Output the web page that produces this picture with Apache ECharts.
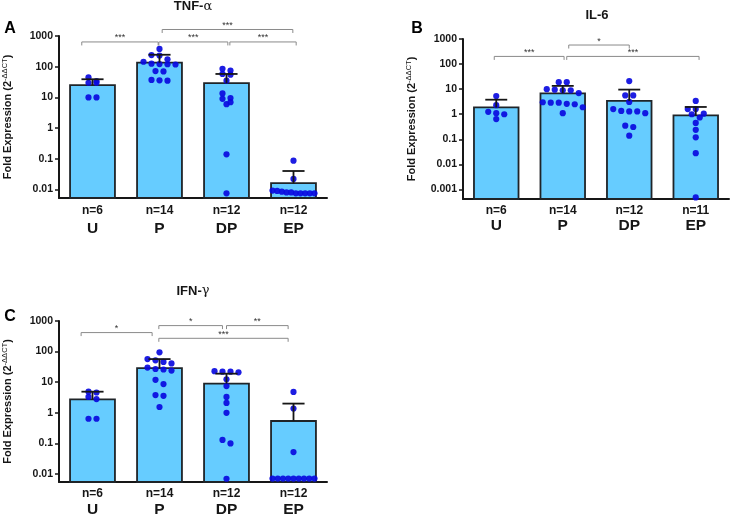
<!DOCTYPE html>
<html><head><meta charset="utf-8">
<script src="https://cdn.jsdelivr.net/npm/echarts@6/dist/echarts.min.js"></script>
<style>html,body{margin:0;padding:0;background:#fff}#c{width:730px;height:514px}</style>
</head><body><div id="c"></div>
<script>
// ---------- data ----------
const categories = ['U', 'P', 'DP', 'EP'];
const tnfCounts = ['n=6', 'n=14', 'n=12', 'n=12'];
const il6Counts = ['n=6', 'n=14', 'n=12', 'n=11'];
const ifnCounts = ['n=6', 'n=14', 'n=12', 'n=12'];

const tickValuesAC = [0.01, 0.1, 1, 10, 100, 1000];
const tickLabelsAC = ['0.01', '0.1', '1', '10', '100', '1000'];
const tickValuesB = [0.001, 0.01, 0.1, 1, 10, 100, 1000];
const tickLabelsB = ['0.001', '0.01', '0.1', '1', '10', '100', '1000'];

// TNF-α
const tnfMean = [25, 135, 29, 0.016];
const tnfSemTop = [39, 245, 58, 0.040];
const tnfU = [45, 34, 30, 30, 10, 10];
const tnfP = [380, 240, 230, 175, 145, 125, 120, 118, 122, 72, 70, 37, 35, 36];
const tnfDP = [85, 75, 58, 55, 35, 13.5, 9.5, 9, 6, 7, 0.14, 0.0075];
const tnfEP = [0.087, 0.022, 0.0075, 0.0075, 0.008, 0.0085, 0.009, 0.0092, 0.008, 0.0075, 0.0075, 0.0075];
const tnfSig = [['U', 'P', '***'], ['P', 'DP', '***'], ['DP', 'EP', '***'], ['P', 'EP', '***']];

// IL-6
const il6Mean = [1.87, 6.8, 3.4, 0.9];
const il6SemTop = [3.8, 13.5, 9.6, 1.95];
const il6U = [5.3, 2.3, 1.1, 1.0, 1.25, 0.64];
const il6P = [19, 19, 10, 9, 9, 9.5, 7, 3, 2.6, 2.5, 2.9, 2.9, 1.9, 1.1];
const il6DP = [21, 5.6, 5.6, 3.1, 1.6, 1.3, 1.1, 1.3, 1.35, 0.35, 0.31, 0.14];
const il6EP = [3.4, 1.6, 1.6, 1.0, 1.05, 0.74, 0.45, 0.24, 0.12, 0.028, 0.00048];
const il6Sig = [['U', 'P', '***'], ['P', 'DP', '*'], ['P', 'EP', '***']];

// IFN-γ
const ifnMean = [2.76, 29, 9.0, 0.54];
const ifnSemTop = [4.9, 57, 19, 2.0];
const ifnU = [4.9, 4.6, 3.3, 2.8, 0.64, 0.64];
const ifnP = [95, 57, 52, 46, 41, 30, 26, 24, 27, 8.7, 12, 3.8, 3.6, 1.55];
const ifnDP = [23, 22, 21, 22, 12.5, 7.5, 3.3, 2.1, 1.0, 0.13, 0.1, 0.007];
const ifnEP = [4.8, 1.37, 0.052, 0.0071, 0.0071, 0.0071, 0.0071, 0.0071, 0.0071, 0.0071, 0.0071, 0.0071];
const ifnSig = [['U', 'P', '*'], ['P', 'DP', '*'], ['DP', 'EP', '**'], ['P', 'EP', '***']];

// ---------- layout / style (not data) ----------
const FONT = '"Liberation Sans", Arial, sans-serif';
const BAR_FILL = '#66ccff';
const INK = '#161616';
const DOT = '#0a0ae0';
// bracket geometry: [left inset, right inset (category units), height level]
const tnfBracketLayout = [[-0.16, -0.02, 640], [-0.01, 0.02, 640], [0.05, 0.04, 640], [0.04, -0.01, 1630]];
const il6BracketLayout = [[-0.03, 0.02, 202], [0.09, 0.0, 575], [0.06, 0.05, 202]];
const ifnBracketLayout = [[-0.17, -0.11, 418], [-0.01, -0.06, 707], [0.0, -0.08, 707], [-0.01, -0.08, 272]];

const panels = [
  {grid: {left: 59, top: 36, width: 268, height: 162}, yMin: 0.00528, ticks: tickValuesAC, labels: tickLabelsAC,
   counts: tnfCounts, mean: tnfMean, sem: tnfSemTop, groups: [tnfU, tnfP, tnfDP, tnfEP], sig: tnfSig, bl: tnfBracketLayout,
   nLH: 16, cLH: 20, nameGap: 44},
  {grid: {left: 463, top: 39, width: 266, height: 160}, yMin: 0.000417, ticks: tickValuesB, labels: tickLabelsB,
   counts: il6Counts, mean: il6Mean, sem: il6SemTop, groups: [il6U, il6P, il6DP, il6EP], sig: il6Sig, bl: il6BracketLayout,
   nLH: 14, cLH: 15, nameGap: 44},
  {grid: {left: 59, top: 321, width: 268, height: 161}, yMin: 0.00548, ticks: tickValuesAC, labels: tickLabelsAC,
   counts: ifnCounts, mean: ifnMean, sem: ifnSemTop, groups: [ifnU, ifnP, ifnDP, ifnEP], sig: ifnSig, bl: ifnBracketLayout,
   nLH: 14, cLH: 17, nameGap: 44}
];

function swarm(api, cat, values) {
  const BIN = 5, SP = 8, MAXW = 42;
  const ys = values.map(v => api.coord([cat, v])[1]);
  const order = ys.map((y, k) => k).sort((a, b) => ys[a] - ys[b]);
  const offs = new Array(values.length).fill(0);
  let cl = [];
  const flush = () => {
    const k = cl.length;
    const step = k > 1 ? Math.min(SP, MAXW / (k - 1)) : 0;
    cl.forEach((idx, j) => { offs[idx] = (j - (k - 1) / 2) * step; });
    cl = [];
  };
  order.forEach(k => {
    if (cl.length && ys[k] - ys[cl[0]] > BIN) flush();
    cl.push(k);
  });
  flush();
  return offs;
}

const grids = [], xAxes = [], yAxes = [], series = [];
panels.forEach((p, g) => {
  grids.push(Object.assign({outerBoundsMode: 'none', containLabel: false}, p.grid));
  xAxes.push({
    type: 'category', gridIndex: g, data: categories,
    axisLine: {onZero: false, lineStyle: {color: INK, width: 2}},
    axisTick: {alignWithLabel: true, length: 4, lineStyle: {color: INK, width: 1.5}},
    axisLabel: {
      interval: 0, margin: 5, color: INK, fontFamily: FONT,
      formatter: (v, i) => '{n|' + p.counts[i] + '}\n{c|' + v + '}',
      rich: {
        n: {fontSize: 12, fontWeight: 'bold', lineHeight: p.nLH, color: INK, fontFamily: FONT},
        c: {fontSize: 15.5, fontWeight: 'bold', lineHeight: p.cLH, color: INK, fontFamily: FONT}
      }
    },
    splitLine: {show: false}
  });
  yAxes.push({
    type: 'log', logBase: 10, gridIndex: g, min: p.yMin, max: 1000,
    axisLine: {show: true, onZero: false, lineStyle: {color: INK, width: 2}},
    axisTick: {show: true, length: 4, lineStyle: {color: INK, width: 1.5}, customValues: p.ticks},
    minorTick: {show: false}, splitLine: {show: false},
    axisLabel: {
      customValues: p.ticks, margin: 6, color: INK, fontFamily: FONT, fontSize: 10.5, fontWeight: 'bold',
      formatter: v => {
        let best = 0, bd = Infinity;
        p.ticks.forEach((t, k) => { const d = Math.abs(Math.log10(v) - Math.log10(t)); if (d < bd) { bd = d; best = k; } });
        return p.labels[best];
      }
    },
    name: 'Fold Expression (2{sup|-ΔΔCT})', nameLocation: 'middle', nameRotate: 90, nameGap: p.nameGap,
    nameTextStyle: {
      fontFamily: FONT, fontSize: 11, fontWeight: 'bold', color: INK, lineHeight: 14,
      rich: {sup: {fontFamily: FONT, fontSize: 7.5, fontWeight: 'normal', color: INK, verticalAlign: 'top', lineHeight: 8}}
    }
  });

  // bars
  series.push({
    type: 'custom', xAxisIndex: g, yAxisIndex: g, z: 2, clip: false,
    data: p.mean.map((m, i) => [i, m]), encode: {x: 0, y: 1},
    renderItem(params, api) {
      const i = api.value(0), v = api.value(1);
      const band = api.size([1, 0])[0];
      const top = api.coord([i, v]);
      const bottom = params.coordSys.y + params.coordSys.height;
      const w = band * 0.67;
      return {type: 'rect', shape: {x: top[0] - w / 2, y: top[1], width: w, height: bottom - top[1]},
        style: {fill: BAR_FILL, stroke: '#1f2428', lineWidth: 1.8}};
    }
  });
  // dots
  const dotData = [];
  p.groups.forEach((vals, i) => vals.forEach((v, j) => dotData.push([i, v, j])));
  series.push({
    type: 'custom', xAxisIndex: g, yAxisIndex: g, z: 3, clip: false,
    data: dotData, encode: {x: 0, y: 1},
    renderItem(params, api) {
      const i = api.value(0), v = api.value(1), j = api.value(2);
      const offs = swarm(api, i, p.groups[i]);
      const c = api.coord([i, v]);
      return {type: 'circle', shape: {cx: c[0] + offs[j], cy: c[1], r: 3.1}, style: {fill: DOT, opacity: 0.92}};
    }
  });
  // error bars (mean to mean+SEM)
  series.push({
    type: 'custom', xAxisIndex: g, yAxisIndex: g, z: 4, clip: false,
    data: p.mean.map((m, i) => [i, m, p.sem[i]]), encode: {x: 0, y: [1, 2]},
    renderItem(params, api) {
      const i = api.value(0);
      const band = api.size([1, 0])[0];
      const a = api.coord([i, api.value(1)]);
      const b = api.coord([i, api.value(2)]);
      const hw = band * 0.165;
      const st = {stroke: INK, lineWidth: 1.8};
      return {type: 'group', children: [
        {type: 'line', shape: {x1: a[0], y1: a[1], x2: b[0], y2: b[1]}, style: st},
        {type: 'line', shape: {x1: b[0] - hw, y1: b[1], x2: b[0] + hw, y2: b[1]}, style: st}
      ]};
    }
  });
  // significance brackets
  series.push({
    type: 'custom', xAxisIndex: g, yAxisIndex: g, z: 5, clip: false,
    data: p.sig.map((s, k) => [categories.indexOf(s[0]), p.bl[k][2], categories.indexOf(s[1]), k]),
    encode: {x: 0, y: 1},
    renderItem(params, api) {
      const k = api.value(3);
      const i0 = api.value(0), i1 = api.value(2), lvl = api.value(1);
      const band = api.size([1, 0])[0];
      const lay = p.bl[k];
      const pa = api.coord([i0, lvl]);
      const pb = api.coord([i1, lvl]);
      const x0 = pa[0] + lay[0] * band, x1 = pb[0] + lay[1] * band, y = pa[1];
      return {type: 'group', children: [
        {type: 'polyline', shape: {points: [[x0, y + 3.5], [x0, y], [x1, y], [x1, y + 3.5]]},
          style: {stroke: '#8a8a8a', lineWidth: 1, fill: null}},
        {type: 'text', x: (x0 + x1) / 2, y: y - 4,
          style: {text: p.sig[k][2], fontSize: 9, fontFamily: FONT, fill: '#333', align: 'center', verticalAlign: 'middle'}}
      ]};
    }
  });
});

const titleRich = {g: {fontFamily: 'DejaVu Serif, serif', fontSize: 13, fontWeight: 'normal', fill: INK}};
const graphics = [
  {type: 'text', x: 193, y: 6.5, style: {text: 'TNF-{g|α}', rich: titleRich, fontFamily: FONT, fontSize: 13, fontWeight: 'bold', fill: INK, align: 'center', verticalAlign: 'middle'}},
  {type: 'text', x: 597, y: 15, style: {text: 'IL-6', fontFamily: FONT, fontSize: 13, fontWeight: 'bold', fill: INK, align: 'center', verticalAlign: 'middle'}},
  {type: 'text', x: 193, y: 291, style: {text: 'IFN-{g|γ}', rich: titleRich, fontFamily: FONT, fontSize: 13, fontWeight: 'bold', fill: INK, align: 'center', verticalAlign: 'middle'}},
  {type: 'text', x: 10, y: 29, style: {text: 'A', fontFamily: FONT, fontSize: 16, fontWeight: 'bold', fill: '#000', align: 'center', verticalAlign: 'middle'}},
  {type: 'text', x: 417, y: 29, style: {text: 'B', fontFamily: FONT, fontSize: 16, fontWeight: 'bold', fill: '#000', align: 'center', verticalAlign: 'middle'}},
  {type: 'text', x: 10, y: 317, style: {text: 'C', fontFamily: FONT, fontSize: 16, fontWeight: 'bold', fill: '#000', align: 'center', verticalAlign: 'middle'}}
];

const chart = echarts.init(document.getElementById('c'), null, {renderer: 'canvas'});
chart.setOption({
  animation: false, backgroundColor: '#fff',
  grid: grids, xAxis: xAxes, yAxis: yAxes, series: series, graphic: graphics
});
</script></body></html>
